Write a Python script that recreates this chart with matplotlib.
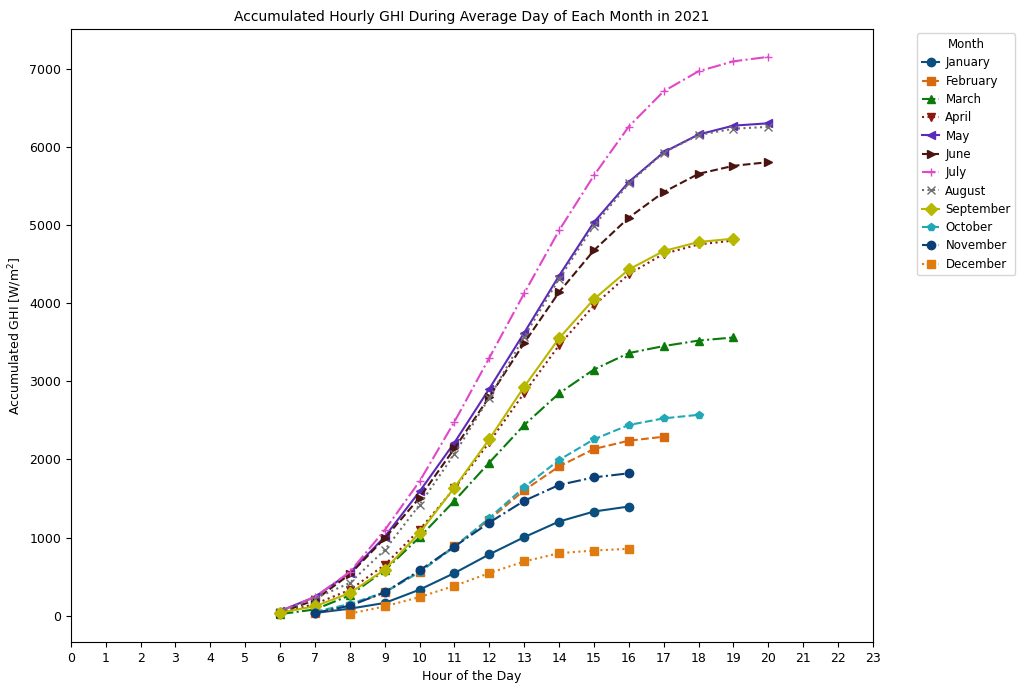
import matplotlib
matplotlib.use("Agg")
import matplotlib.pyplot as plt

months = ["January", "February", "March", "April", "May", "June", "July",
          "August", "September", "October", "November", "December"]

start_hours = [7, 7, 6, 6, 6, 6, 6, 6, 6, 7, 7, 8]

january = [35, 90, 163, 333, 546, 785, 1005, 1205, 1333, 1397]
february = [40, 130, 300, 560, 890, 1230, 1605, 1910, 2133, 2239, 2290]
march = [20, 80, 260, 580, 1005, 1470, 1960, 2440, 2845, 3150, 3360, 3450, 3520, 3560]
april = [35, 150, 330, 650, 1100, 1630, 2220, 2850, 3460, 3970, 4370, 4630, 4750, 4800]
may = [60, 240, 550, 1010, 1590, 2215, 2905, 3620, 4350, 5035, 5550, 5930, 6157, 6270, 6300]
june = [40, 200, 530, 990, 1510, 2140, 2800, 3490, 4140, 4675, 5093, 5420, 5654, 5756, 5803]
july = [60, 240, 560, 1095, 1720, 2482, 3300, 4125, 4930, 5633, 6259, 6710, 6966, 7093, 7150]
august = [50, 220, 420, 840, 1420, 2070, 2790, 3570, 4310, 4990, 5530, 5925, 6150, 6230, 6255]
september = [40, 120, 290, 590, 1060, 1640, 2260, 2930, 3550, 4050, 4430, 4666, 4781, 4824]
october = [50, 150, 300, 560, 880, 1250, 1644, 1993, 2257, 2440, 2525, 2570]
november = [35, 128, 298, 579, 885, 1192, 1470, 1673, 1770, 1822]
december = [26, 119, 238, 383, 545, 694, 800, 834, 856]

series = [january, february, march, april, may, june, july, august,
          september, october, november, december]

colors = ["#0b4f7f", "#d9690f", "#0a7a0a", "#8b1a10", "#5b2ab8", "#4a1410",
          "#e048c8", "#6e6e6e", "#b8b800", "#20a8b8", "#0a3f78", "#e07b10"]
markers = ["o", "s", "^", "v", "<", ">", "+", "x", "D", "p", "o", "s"]
styles = ["-", "--", "-.", ":"] * 3

fig = plt.figure(figsize=(10.27, 6.84), dpi=100)
ax = fig.add_axes([0.069, 0.0614, 0.781, 0.8962])

for name, vals, h0, c, m, ls in zip(months, series, start_hours, colors, markers, styles):
    hours = list(range(h0, h0 + len(vals)))
    ax.plot(hours, vals, linestyle=ls, marker=m, color=c, label=name,
            markersize=6, linewidth=1.5)

ax.set_xlim(0, 23)
ax.set_xticks(range(0, 24))
ax.set_yticks(range(0, 8000, 1000))
ax.tick_params(labelsize=9)
ax.set_xlabel("Hour of the Day", fontsize=9)
ax.set_ylabel("Accumulated GHI [W/m$^2$]", fontsize=9)
ax.set_title("Accumulated Hourly GHI During Average Day of Each Month in 2021", fontsize=10)

ax.legend(title="Month", loc="upper left", bbox_to_anchor=(1.055, 0.993),
          fontsize=8.5, title_fontsize=8.5, handlelength=1.5, handletextpad=0.5,
          labelspacing=0.45, borderaxespad=0.0, borderpad=0.4)

fig.savefig("out.png", dpi=100)
